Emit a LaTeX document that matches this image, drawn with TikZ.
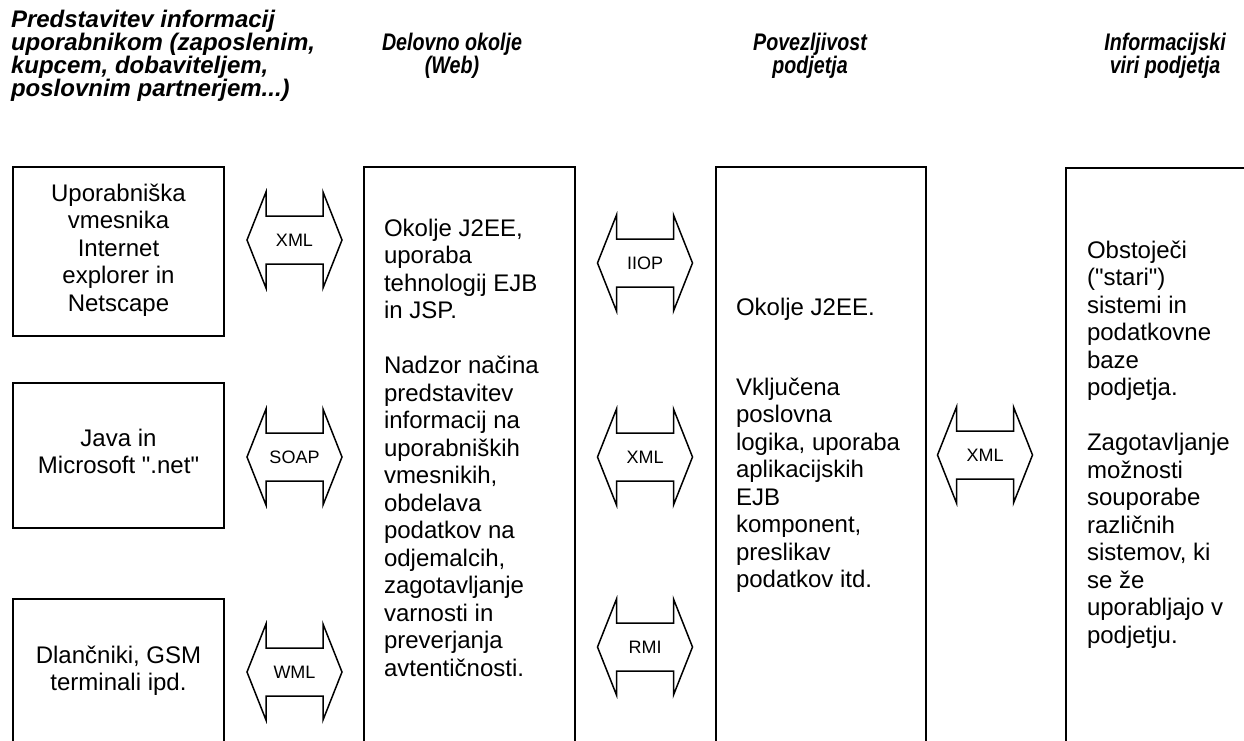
\documentclass[tikz,border=0pt]{standalone}
\usepackage{fontspec}
\setmainfont{Liberation Sans}[Ligatures=TeXOff]
\newfontfamily\narrowsans{Liberation Sans}[Ligatures=TeXOff,FakeStretch=0.82]
% double-headed protocol arrow: name, centre, label
\newcommand\protolink[3]{%
  \node[tag] (#1) at (#2) {#3};
  \draw[link] ([xshift=-47.5pt]#1.center) -- ++(19,-48) -- ++(0,24) -- ++(57,0)
    -- ++(0,-24) -- ++(19,48) -- ++(-19,48) -- ++(0,-24) -- ++(-57,0) -- ++(0,24) -- cycle;}
\begin{document}
\begin{tikzpicture}[x=1pt,y=-1pt,
  every node/.style={inner sep=0pt,outer sep=0pt},
  panel/.style={draw,line width=1.5pt,rectangle},
  body/.style={font=\fontsize{24}{27.5}\selectfont},
  head/.style={font=\fontsize{24}{23}\selectfont\bfseries\itshape},
  narrowhead/.style={font=\fontsize{24}{23}\selectfont\narrowsans\bfseries\itshape},
  tag/.style={font=\fontsize{18}{20}\selectfont},
  link/.style={draw,line width=1.5pt,line join=miter}]
\useasboundingbox (0,0) rectangle (1244,740);
\clip (0,0) rectangle (1244,740);

% column headings
\node[head,anchor=north west,align=left] (h1) at (11,10)
  {Predstavitev informacij\\uporabnikom (zaposlenim,\\kupcem, dobaviteljem,\\poslovnim partnerjem...)};
\node[narrowhead,anchor=north,align=center] (h2) at (452,33) {Delovno okolje\\(Web)};
\node[narrowhead,anchor=north,align=center] (h3) at (810,33) {Povezljivost\\podjetja};
\node[narrowhead,anchor=north,align=center] (h4) at (1165,33) {Informacijski\\viri podjetja};

% client panels
\node[panel,minimum width=211,minimum height=169] (c1) at (118.5,251.5) {};
\node[panel,minimum width=211,minimum height=145] (c2) at (118.5,455.5) {};
\node[panel,minimum width=211,minimum height=201] (c3) at (118.5,699.5) {};
\node[body,anchor=north,align=center] (c1t) at (118.5,184)
  {Uporabniška\\vmesnika\\Internet\\explorer in\\Netscape};
\node[body,anchor=north,align=center] (c2t) at (118.5,429) {Java in\\Microsoft ".net"};
\node[body,anchor=north,align=center] (c3t) at (118.5,646) {Dlančniki, GSM\\terminali ipd.};

% tall columns
\node[panel,minimum width=211,minimum height=633] (web) at (469.5,483.5) {};
\node[panel,minimum width=210,minimum height=633] (conn) at (821,483.5) {};
\node[panel,minimum width=234,minimum height=632] (data) at (1183,484) {};

\node[body,anchor=north west,align=left] (webt) at (384,219)
  {Okolje J2EE,\\uporaba\\tehnologij EJB\\in JSP.\\[27.5pt]Nadzor načina\\predstavitev\\informacij na\\uporabniških\\vmesnikih,\\obdelava\\podatkov na\\odjemalcih,\\zagotavljanje\\varnosti in\\preverjanja\\avtentičnosti.};
\node[body,anchor=north west,align=left] (connt) at (736,298)
  {Okolje J2EE.\\[52.5pt]Vključena\\poslovna\\logika, uporaba\\aplikacijskih\\EJB\\komponent,\\preslikav\\podatkov itd.};
\node[body,anchor=north west,align=left] (datat) at (1087,241)
  {Obstoječi\\("stari")\\sistemi in\\podatkovne\\baze\\podjetja.\\[27.5pt]Zagotavljanje\\možnosti\\souporabe\\različnih\\sistemov, ki\\se že\\uporabljajo v\\podjetju.};

% protocol arrows
\protolink{p1}{294.5,240}{XML}
\protolink{p2}{294.5,457}{SOAP}
\protolink{p3}{294.5,672}{WML}
\protolink{p4}{645,263}{IIOP}
\protolink{p5}{645,457}{XML}
\protolink{p6}{645,647}{RMI}
\protolink{p7}{985,455}{XML}
\end{tikzpicture}
\end{document}
